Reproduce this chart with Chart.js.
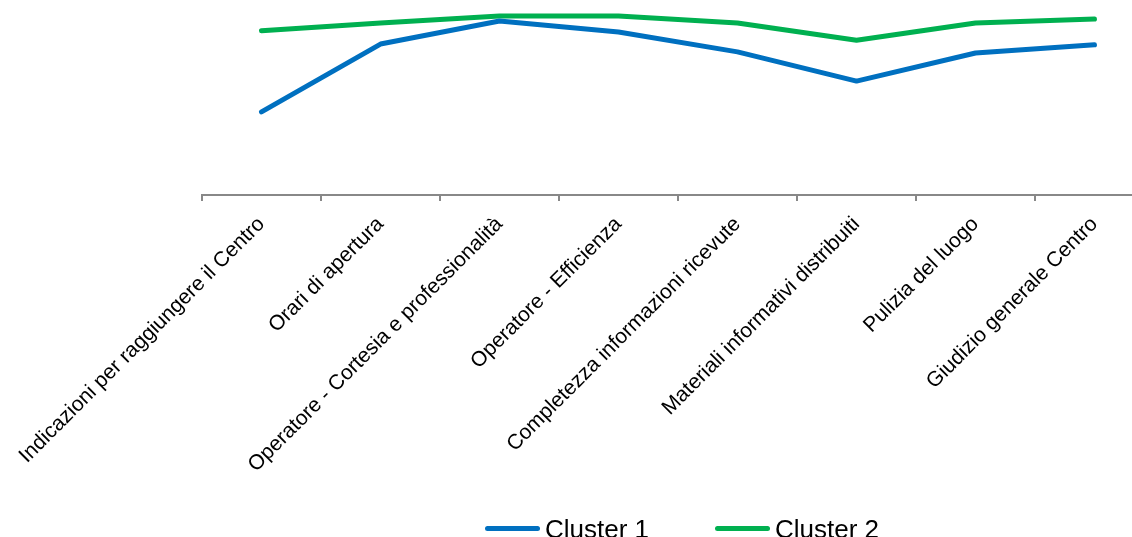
<!DOCTYPE html>
<html>
<head>
<meta charset="utf-8">
<script src="https://cdn.jsdelivr.net/npm/chart.js@4.4.1/dist/chart.umd.min.js"></script>
<style>
  html, body { margin: 0; padding: 0; background: #fff; overflow: hidden; width: 1132px; height: 537px; }
  #wrap { position: absolute; left: 0; top: 0; width: 1170px; height: 537px; }
  .legend-line { position: absolute; height: 5px; border-radius: 3px; }
  .legend-text { position: absolute; font-family: 'Liberation Sans', Arial, sans-serif; font-size: 26px; line-height: 26px; color: #000; white-space: nowrap; }
</style>
</head>
<body>
<div id="wrap"><canvas id="myChart"></canvas></div>
<div class="legend-line" style="left:485px; top:526px; width:55px; background:#0070C0"></div>
<div class="legend-text" style="left:545px; top:516px">Cluster 1</div>
<div class="legend-line" style="left:715px; top:526px; width:55px; background:#00B050"></div>
<div class="legend-text" style="left:775px; top:516px">Cluster 2</div>
<script>
const categories = [
  'Indicazioni per raggiungere il Centro',
  'Orari di apertura',
  'Operatore - Cortesia e professionalità',
  'Operatore - Efficienza',
  'Completezza informazioni ricevute',
  'Materiali informativi distribuiti',
  'Pulizia del luogo',
  'Giudizio generale Centro'
];
const cluster1 = [71.3, 88.7, 94.6, 91.8, 86.7, 79.2, 86.4, 88.5];
const cluster2 = [92.1, 94.1, 95.9, 95.9, 94.1, 89.7, 94.1, 95.1];

const ctx = document.getElementById('myChart').getContext('2d');

new Chart(ctx, {
  type: 'line',
  data: {
    labels: categories,
    datasets: [{
      label: 'Cluster 1',
      data: cluster1,
      borderColor: '#0070C0',
      backgroundColor: '#0070C0',
      borderWidth: 5,
      borderCapStyle: 'round',
      borderJoinStyle: 'round',
      pointRadius: 0,
      tension: 0
    }, {
      label: 'Cluster 2',
      data: cluster2,
      borderColor: '#00B050',
      backgroundColor: '#00B050',
      borderWidth: 5,
      borderCapStyle: 'round',
      borderJoinStyle: 'round',
      pointRadius: 0,
      tension: 0
    }]
  },
  options: {
    responsive: true,
    maintainAspectRatio: false,
    animation: false,
    devicePixelRatio: 1,
    layout: {
      padding: { left: 202, right: 16, top: 0, bottom: 0 }
    },
    plugins: {
      legend: { display: false },
      tooltip: { enabled: false }
    },
    scales: {
      x: {
        offset: true,
        grid: {
          offset: true,
          drawOnChartArea: false,
          drawTicks: true,
          tickLength: 6,
          color: '#888888',
          lineWidth: 2
        },
        border: { display: true, color: '#888888', width: 2 },
        ticks: {
          autoSkip: false,
          minRotation: 45,
          maxRotation: 45,
          padding: 11,
          color: '#000',
          font: { family: "'Liberation Sans', Arial, sans-serif", size: 21 }
        },
        afterFit: (scale) => {
          scale.height = 537 - 195;
          scale.paddingLeft = 0;
          scale.paddingRight = 0;
        }
      },
      y: {
        display: false,
        min: 50,
        max: 100
      }
    }
  }
});
</script>
</body>
</html>
